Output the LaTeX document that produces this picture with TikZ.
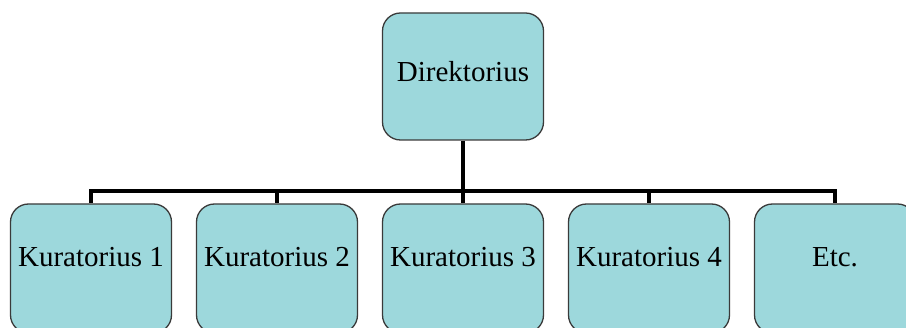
\documentclass[tikz,border=0pt]{standalone}
\usepackage{fontspec}
\setmainfont{Liberation Serif}
\definecolor{boxfill}{RGB}{157,216,220}
\definecolor{boxline}{RGB}{58,58,58}
\pgfdeclarelayer{background}
\pgfsetlayers{background,main}
\begin{document}
\begin{tikzpicture}[x=1pt,y=-1pt,
  orgbox/.style={draw=boxline, line width=1.3pt, fill=boxfill, rounded corners=18pt,
    minimum width=161pt, inner sep=0pt},
  boxtxt/.style={font=\fontsize{29}{33}\selectfont, inner sep=0pt},
  conn/.style={line width=4.5pt, draw=black}]
\useasboundingbox (0,0) rectangle (906,328);
\clip (0,0) rectangle (906,328);
\node[orgbox, minimum height=127pt] (dir) at (463,76.5) {};
\foreach \i/\x in {1/91,2/277,3/463,4/649,5/835}{
  \node[orgbox, minimum height=129pt] (k\i) at (\x,268.5) {};
}
\coordinate (bar) at (463,191);
\begin{pgfonlayer}{background}
\draw[conn] (dir.south) -- (bar);
\foreach \i in {1,...,5}{
  \draw[conn] (bar) -| (k\i.north);
}
\end{pgfonlayer}
\node[boxtxt] (tdir) at ([yshift=5pt]dir.center) {Direktorius};
\node[boxtxt] (t1) at ([yshift=11pt]k1.center) {Kuratorius 1};
\node[boxtxt] (t2) at ([yshift=11pt]k2.center) {Kuratorius 2};
\node[boxtxt] (t3) at ([yshift=11pt]k3.center) {Kuratorius 3};
\node[boxtxt] (t4) at ([yshift=11pt]k4.center) {Kuratorius 4};
\node[boxtxt] (t5) at ([yshift=11pt]k5.center) {Etc.};
\end{tikzpicture}
\end{document}
